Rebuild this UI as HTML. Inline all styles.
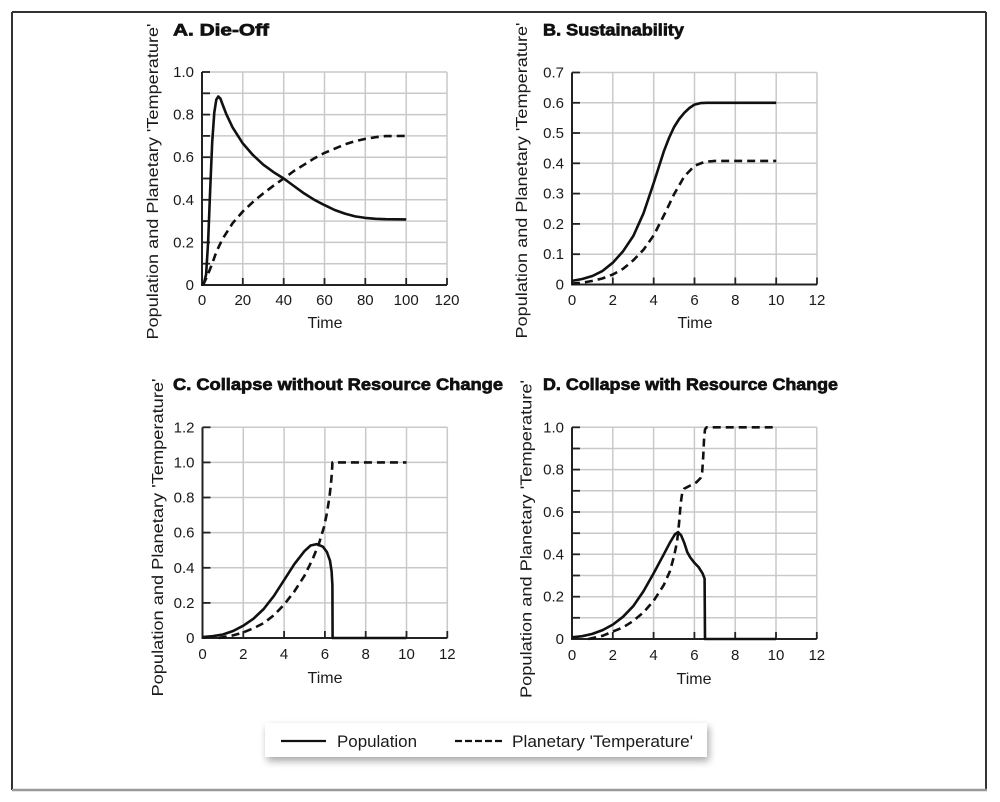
<!DOCTYPE html>
<html>
<head>
<meta charset="utf-8">
<style>
html,body{margin:0;padding:0;background:#fff;}
svg{display:block;}
text{font-family:"Liberation Sans",Arial,sans-serif;fill:#1a1a1a;}
.grid line{stroke:#c9c9c9;stroke-width:1.5;}
.ax{stroke:#222;stroke-width:2;fill:none;}
.tk{stroke:#222;stroke-width:1.8;}
.yl{font-size:15px;text-anchor:end;}
.xl{font-size:15px;text-anchor:middle;}
.ttl{font-size:16.5px;font-weight:bold;fill:#111;stroke:#111;stroke-width:0.7;}
.lab{font-size:16px;}
.sol{fill:none;stroke:#111;stroke-width:2.6;stroke-linejoin:round;stroke-linecap:butt;}
.das{fill:none;stroke:#111;stroke-width:2.6;stroke-dasharray:8 5;stroke-linejoin:round;}
</style>
</head>
<body>
<svg width="1000" height="802" viewBox="0 0 1000 802" xmlns="http://www.w3.org/2000/svg">
<defs>
<filter id="sh" x="-10%" y="-40%" width="120%" height="200%">
<feGaussianBlur in="SourceAlpha" stdDeviation="4"/>
<feOffset dx="2" dy="4" result="b"/>
<feComponentTransfer><feFuncA type="linear" slope="0.35"/></feComponentTransfer>
<feMerge><feMergeNode/><feMergeNode in="SourceGraphic"/></feMerge>
</filter>
</defs>
<rect x="0" y="0" width="1000" height="802" fill="#fff"/>
<line x1="12" y1="12" x2="986" y2="12" stroke="#333" stroke-width="2"/>
<line x1="12" y1="12" x2="12" y2="790" stroke="#333" stroke-width="2"/>
<line x1="986" y1="12" x2="986" y2="790" stroke="#333" stroke-width="2"/>
<line x1="12" y1="790" x2="987" y2="790" stroke="#9a9a9a" stroke-width="2.5"/>

<!-- PANEL A -->
<text class="ttl" x="173" y="35.5" textLength="96" lengthAdjust="spacingAndGlyphs">A. Die-Off</text>
<g class="grid">
<line x1="242.8" y1="72" x2="242.8" y2="285"/><line x1="283.7" y1="72" x2="283.7" y2="285"/>
<line x1="324.5" y1="72" x2="324.5" y2="285"/><line x1="365.3" y1="72" x2="365.3" y2="285"/>
<line x1="406.2" y1="72" x2="406.2" y2="285"/><line x1="447" y1="72" x2="447" y2="285"/>
<line x1="202" y1="72" x2="447" y2="72"/><line x1="202" y1="93.3" x2="447" y2="93.3"/>
<line x1="202" y1="114.6" x2="447" y2="114.6"/><line x1="202" y1="135.9" x2="447" y2="135.9"/>
<line x1="202" y1="157.2" x2="447" y2="157.2"/><line x1="202" y1="178.5" x2="447" y2="178.5"/>
<line x1="202" y1="199.8" x2="447" y2="199.8"/><line x1="202" y1="221.1" x2="447" y2="221.1"/>
<line x1="202" y1="242.4" x2="447" y2="242.4"/><line x1="202" y1="263.7" x2="447" y2="263.7"/>
</g>
<g class="tk">
<line x1="202" y1="72" x2="210" y2="72"/><line x1="202" y1="93.3" x2="210" y2="93.3"/>
<line x1="202" y1="114.6" x2="210" y2="114.6"/><line x1="202" y1="135.9" x2="210" y2="135.9"/>
<line x1="202" y1="157.2" x2="210" y2="157.2"/><line x1="202" y1="178.5" x2="210" y2="178.5"/>
<line x1="202" y1="199.8" x2="210" y2="199.8"/><line x1="202" y1="221.1" x2="210" y2="221.1"/>
<line x1="202" y1="242.4" x2="210" y2="242.4"/><line x1="202" y1="263.7" x2="210" y2="263.7"/>
<line x1="242.8" y1="285" x2="242.8" y2="278"/><line x1="283.7" y1="285" x2="283.7" y2="278"/>
<line x1="324.5" y1="285" x2="324.5" y2="278"/><line x1="365.3" y1="285" x2="365.3" y2="278"/>
<line x1="406.2" y1="285" x2="406.2" y2="278"/><line x1="447" y1="285" x2="447" y2="278"/>
</g>
<polyline class="ax" points="202,72 202,285 447,285"/>
<g class="yl">
<text x="194" y="77">1.0</text><text x="194" y="119.6">0.8</text><text x="194" y="162.2">0.6</text>
<text x="194" y="204.8">0.4</text><text x="194" y="247.4">0.2</text><text x="194" y="290">0</text>
</g>
<g class="xl">
<text x="202" y="305">0</text><text x="242.8" y="305">20</text><text x="283.7" y="305">40</text>
<text x="324.5" y="305">60</text><text x="365.3" y="305">80</text><text x="406.2" y="305">100</text><text x="447" y="305">120</text>
</g>
<text class="lab" x="325" y="328" text-anchor="middle">Time</text>
<text class="lab" transform="translate(158,181.5) rotate(-90)" text-anchor="middle" textLength="316" lengthAdjust="spacingAndGlyphs">Population and Planetary 'Temperature'</text>
<polyline class="sol" points="202,285 204,282.9 206.1,274.4 208.1,242.4 210.2,189.2 212.2,142.3 214.3,112.5 216.3,99.7 218.3,96.5 220.4,98.6 222.4,104 226.5,114.6 232.6,127.4 242.8,143.4 253,155.1 263.3,164.7 273.5,172.1 283.7,178.5 293.9,186 304.1,193.4 314.3,199.8 324.5,205.1 334.7,210 344.9,213.6 355.1,216.4 365.3,217.9 375.5,218.8 385.8,219.2 406.2,219.4"/>
<polyline class="das" points="203,285 207.1,276.5 212.2,263.7 216.3,252 222.4,239.2 232.6,223.2 242.8,211.5 253,201.9 263.3,193.4 273.5,185.7 283.7,178.5 293.9,171 304.1,164.7 314.3,158.3 324.5,152.9 334.7,148.7 344.9,144.4 355.1,141.2 365.3,138.9 375.5,137.2 385.8,136.1 406.2,135.9"/>

<!-- PANEL B -->
<text class="ttl" x="543" y="35.5" textLength="141" lengthAdjust="spacingAndGlyphs">B. Sustainability</text>
<g class="grid">
<line x1="612.8" y1="72.5" x2="612.8" y2="284.5"/><line x1="653.7" y1="72.5" x2="653.7" y2="284.5"/>
<line x1="694.5" y1="72.5" x2="694.5" y2="284.5"/><line x1="735.3" y1="72.5" x2="735.3" y2="284.5"/>
<line x1="776.2" y1="72.5" x2="776.2" y2="284.5"/><line x1="817" y1="72.5" x2="817" y2="284.5"/>
<line x1="572" y1="72.5" x2="817" y2="72.5"/><line x1="572" y1="102.8" x2="817" y2="102.8"/>
<line x1="572" y1="133" x2="817" y2="133"/><line x1="572" y1="163.3" x2="817" y2="163.3"/>
<line x1="572" y1="193.6" x2="817" y2="193.6"/><line x1="572" y1="223.9" x2="817" y2="223.9"/>
<line x1="572" y1="254.2" x2="817" y2="254.2"/>
</g>
<g class="tk">
<line x1="572" y1="72.5" x2="580" y2="72.5"/><line x1="572" y1="102.8" x2="580" y2="102.8"/>
<line x1="572" y1="133" x2="580" y2="133"/><line x1="572" y1="163.3" x2="580" y2="163.3"/>
<line x1="572" y1="193.6" x2="580" y2="193.6"/><line x1="572" y1="223.9" x2="580" y2="223.9"/>
<line x1="572" y1="254.2" x2="580" y2="254.2"/>
<line x1="612.8" y1="284.5" x2="612.8" y2="277.5"/><line x1="653.7" y1="284.5" x2="653.7" y2="277.5"/>
<line x1="694.5" y1="284.5" x2="694.5" y2="277.5"/><line x1="735.3" y1="284.5" x2="735.3" y2="277.5"/>
<line x1="776.2" y1="284.5" x2="776.2" y2="277.5"/><line x1="817" y1="284.5" x2="817" y2="277.5"/>
</g>
<polyline class="ax" points="572,72.5 572,284.5 817,284.5"/>
<g class="yl">
<text x="564" y="77.5">0.7</text><text x="564" y="107.8">0.6</text><text x="564" y="138">0.5</text>
<text x="564" y="168.3">0.4</text><text x="564" y="198.6">0.3</text><text x="564" y="228.9">0.2</text>
<text x="564" y="259.2">0.1</text><text x="564" y="289.5">0</text>
</g>
<g class="xl">
<text x="572" y="305">0</text><text x="612.8" y="305">2</text><text x="653.7" y="305">4</text>
<text x="694.5" y="305">6</text><text x="735.3" y="305">8</text><text x="776.2" y="305">10</text><text x="817" y="305">12</text>
</g>
<text class="lab" x="695" y="328" text-anchor="middle">Time</text>
<text class="lab" transform="translate(527,180.5) rotate(-90)" text-anchor="middle" textLength="316" lengthAdjust="spacingAndGlyphs">Population and Planetary 'Temperature'</text>
<polyline class="sol" points="572,280.9 582.2,279 592.4,276 602.6,270.9 612.8,262.7 623.1,251.2 633.3,236 643.5,213.3 653.7,183 663.9,151.2 669,138 674.1,127 679.2,119 684.3,112.8 689.4,108 694.5,104.6 700.6,103.1 706.8,102.8 776.2,102.8"/>
<polyline class="das" points="572,283.6 582.2,282.7 592.4,280.9 602.6,278.4 612.8,274.5 623.1,268.8 633.3,260.3 643.5,249.7 653.7,235.4 663.9,215.4 674.1,194.2 684.3,176.4 694.5,165.8 704.8,161.8 715,160.9 776.2,160.9"/>

<!-- PANEL C -->
<text class="ttl" x="173" y="390" textLength="330" lengthAdjust="spacingAndGlyphs">C. Collapse without Resource Change</text>
<g class="grid">
<line x1="243.3" y1="427.3" x2="243.3" y2="638"/><line x1="284.1" y1="427.3" x2="284.1" y2="638"/>
<line x1="324.9" y1="427.3" x2="324.9" y2="638"/><line x1="365.7" y1="427.3" x2="365.7" y2="638"/>
<line x1="406.5" y1="427.3" x2="406.5" y2="638"/><line x1="447.3" y1="427.3" x2="447.3" y2="638"/>
<line x1="202.5" y1="427.3" x2="447.3" y2="427.3"/><line x1="202.5" y1="462.4" x2="447.3" y2="462.4"/>
<line x1="202.5" y1="497.5" x2="447.3" y2="497.5"/><line x1="202.5" y1="532.6" x2="447.3" y2="532.6"/>
<line x1="202.5" y1="567.8" x2="447.3" y2="567.8"/><line x1="202.5" y1="602.9" x2="447.3" y2="602.9"/>
</g>
<g class="tk">
<line x1="202.5" y1="427.3" x2="210.5" y2="427.3"/><line x1="202.5" y1="462.4" x2="210.5" y2="462.4"/>
<line x1="202.5" y1="497.5" x2="210.5" y2="497.5"/><line x1="202.5" y1="532.6" x2="210.5" y2="532.6"/>
<line x1="202.5" y1="567.8" x2="210.5" y2="567.8"/><line x1="202.5" y1="602.9" x2="210.5" y2="602.9"/>
<line x1="243.3" y1="638" x2="243.3" y2="631"/><line x1="284.1" y1="638" x2="284.1" y2="631"/>
<line x1="324.9" y1="638" x2="324.9" y2="631"/><line x1="365.7" y1="638" x2="365.7" y2="631"/>
<line x1="406.5" y1="638" x2="406.5" y2="631"/><line x1="447.3" y1="638" x2="447.3" y2="631"/>
</g>
<polyline class="ax" points="202.5,427.3 202.5,638 447.3,638"/>
<g class="yl">
<text x="194.5" y="432.3">1.2</text><text x="194.5" y="467.4">1.0</text><text x="194.5" y="502.5">0.8</text>
<text x="194.5" y="537.6">0.6</text><text x="194.5" y="572.8">0.4</text><text x="194.5" y="607.9">0.2</text>
<text x="194.5" y="643">0</text>
</g>
<g class="xl">
<text x="202.5" y="659">0</text><text x="243.3" y="659">2</text><text x="284.1" y="659">4</text>
<text x="324.9" y="659">6</text><text x="365.7" y="659">8</text><text x="406.5" y="659">10</text><text x="447.3" y="659">12</text>
</g>
<text class="lab" x="325" y="683" text-anchor="middle">Time</text>
<text class="lab" transform="translate(163,537.5) rotate(-90)" text-anchor="middle" textLength="318" lengthAdjust="spacingAndGlyphs">Population and Planetary 'Temperature'</text>
<polyline class="sol" points="202.5,637.1 212.7,636.2 222.9,634.5 233.1,631 243.3,625.7 253.5,618.7 263.7,609 273.9,595.9 284.1,580.1 294.3,564.2 304.5,551.1 310.6,545.5 316.7,544.1 322.9,546.7 326.9,552 330,560.7 331.6,571.3 332.4,585.3 332.6,638 406.5,638"/>
<polyline class="das" points="218.8,638 233.1,635.4 243.3,632.4 253.5,628.3 263.7,623.1 273.9,615.2 284.1,604.6 294.3,591.5 304.5,575.7 312.7,559 318.8,544.1 323.9,527.4 326.9,513.3 329.4,497.5 331,483.5 332,471.2 332.4,462.4 406.5,462.4"/>

<!-- PANEL D -->
<text class="ttl" x="543" y="390" textLength="295" lengthAdjust="spacingAndGlyphs">D. Collapse with Resource Change</text>
<g class="grid">
<line x1="612.8" y1="427.3" x2="612.8" y2="639"/><line x1="653.6" y1="427.3" x2="653.6" y2="639"/>
<line x1="694.4" y1="427.3" x2="694.4" y2="639"/><line x1="735.2" y1="427.3" x2="735.2" y2="639"/>
<line x1="776" y1="427.3" x2="776" y2="639"/><line x1="816.8" y1="427.3" x2="816.8" y2="639"/>
<line x1="572" y1="427.3" x2="816.8" y2="427.3"/><line x1="572" y1="448.5" x2="816.8" y2="448.5"/>
<line x1="572" y1="469.6" x2="816.8" y2="469.6"/><line x1="572" y1="490.8" x2="816.8" y2="490.8"/>
<line x1="572" y1="512" x2="816.8" y2="512"/><line x1="572" y1="533.2" x2="816.8" y2="533.2"/>
<line x1="572" y1="554.3" x2="816.8" y2="554.3"/><line x1="572" y1="575.5" x2="816.8" y2="575.5"/>
<line x1="572" y1="596.7" x2="816.8" y2="596.7"/><line x1="572" y1="617.8" x2="816.8" y2="617.8"/>
</g>
<g class="tk">
<line x1="572" y1="427.3" x2="580" y2="427.3"/><line x1="572" y1="448.5" x2="580" y2="448.5"/>
<line x1="572" y1="469.6" x2="580" y2="469.6"/><line x1="572" y1="490.8" x2="580" y2="490.8"/>
<line x1="572" y1="512" x2="580" y2="512"/><line x1="572" y1="533.2" x2="580" y2="533.2"/>
<line x1="572" y1="554.3" x2="580" y2="554.3"/><line x1="572" y1="575.5" x2="580" y2="575.5"/>
<line x1="572" y1="596.7" x2="580" y2="596.7"/><line x1="572" y1="617.8" x2="580" y2="617.8"/>
<line x1="612.8" y1="639" x2="612.8" y2="632"/><line x1="653.6" y1="639" x2="653.6" y2="632"/>
<line x1="694.4" y1="639" x2="694.4" y2="632"/><line x1="735.2" y1="639" x2="735.2" y2="632"/>
<line x1="776" y1="639" x2="776" y2="632"/><line x1="816.8" y1="639" x2="816.8" y2="632"/>
</g>
<polyline class="ax" points="572,427.3 572,639 816.8,639"/>
<g class="yl">
<text x="564" y="432.3">1.0</text><text x="564" y="474.6">0.8</text><text x="564" y="517">0.6</text>
<text x="564" y="559.3">0.4</text><text x="564" y="601.7">0.2</text><text x="564" y="644">0</text>
</g>
<g class="xl">
<text x="572" y="660">0</text><text x="612.8" y="660">2</text><text x="653.6" y="660">4</text>
<text x="694.4" y="660">6</text><text x="735.2" y="660">8</text><text x="776" y="660">10</text><text x="816.8" y="660">12</text>
</g>
<text class="lab" x="694" y="684" text-anchor="middle">Time</text>
<text class="lab" transform="translate(531.5,539) rotate(-90)" text-anchor="middle" textLength="318" lengthAdjust="spacingAndGlyphs">Population and Planetary 'Temperature'</text>
<polyline class="sol" points="572,637.3 582.2,636.2 592.4,633.9 602.6,630.1 612.8,624.6 623,616.8 633.2,606.2 643.4,591.4 653.6,573.4 663.8,554.3 669.9,542.7 675,534.2 678.1,532.1 681.1,535.3 684.2,542.7 687.3,552.2 690.3,557.5 694.4,562.8 698.5,567 702.6,573.4 704.6,578.7 705,639 776,639"/>
<polyline class="das" points="588.3,639 602.6,635.8 612.8,631.6 623,627.4 633.2,621 643.4,612.5 653.6,600.9 663.8,585 669.9,571.3 674,556.4 677.1,541.6 679.1,522.6 680.7,503.5 682.2,492.9 684.2,488.7 690.3,485.5 696.4,482.3 700.5,478.1 702.2,471.8 703.2,457 704,440 705,429.4 706.6,427.3 776,427.3"/>

<!-- LEGEND -->
<rect x="265" y="723" width="442" height="34" fill="#fff" filter="url(#sh)"/>
<line x1="281" y1="741" x2="326" y2="741" stroke="#111" stroke-width="2.2"/>
<text x="337" y="747" style="font-size:16.5px" textLength="80" lengthAdjust="spacingAndGlyphs">Population</text>
<line x1="455" y1="741" x2="502" y2="741" stroke="#111" stroke-width="2.2" stroke-dasharray="7 3"/>
<text x="512" y="747" style="font-size:16.5px" textLength="181" lengthAdjust="spacingAndGlyphs">Planetary 'Temperature'</text>
</svg>
</body>
</html>
